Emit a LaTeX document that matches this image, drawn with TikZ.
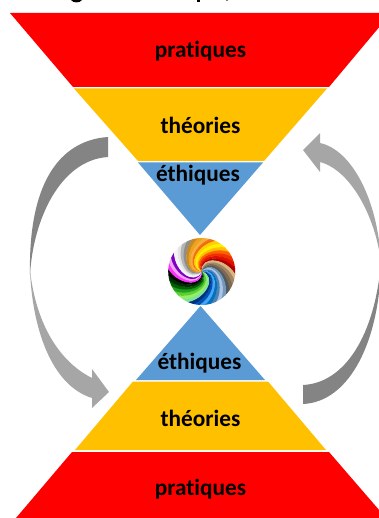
\documentclass[tikz,border=0pt]{standalone}
\usepackage{fontspec}
\setmainfont[Ligatures=CommonOff]{Carlito}
\definecolor{cred}{HTML}{FF0000}
\definecolor{cyel}{HTML}{FFC000}
\definecolor{cblu}{HTML}{5B9BD5}
\definecolor{gdark}{HTML}{848484}
\definecolor{glight}{HTML}{A6A6A6}
\tikzset{
  lbl/.style={font=\fontsize{23.3}{25}\selectfont\bfseries,text=black,inner sep=0pt,anchor=center},
  swirlband/.style={line width=0.15pt}
}
\begin{document}
\begin{tikzpicture}[x=1pt,y=-1pt]
\useasboundingbox (0,0) rectangle (379,518);
\fill[white] (0,0) rectangle (379,518);
\clip (0,0) rectangle (379,518);
% top fragments of cut-off line
\fill[black] (71,0) .. controls (73,3.2) and (80,3.2) .. (82,0) -- cycle;
\fill[black] (197,0) rectangle (200,2);
\fill[gray] (226,0) rectangle (228,1.2);
% funnel
\fill[cred] (10,13) -- (391,13) -- (329,87) -- (73,87) -- cycle;
\fill[cyel] (74,88.5) -- (327,88.5) -- (264,161) -- (138,161) -- cycle;
\fill[cblu] (138,162.5) -- (263,162.5) -- (200,235) -- cycle;
% pyramid
\fill[cblu] (200.5,306) -- (136,380) -- (265,380) -- cycle;
\fill[cyel] (133,381.5) -- (268,381.5) -- (326,450) -- (75,450) -- cycle;
\fill[cred] (72,452) -- (329,452) -- (386,518) -- (16,518) -- cycle;
% arrows
\fill[gdark] (108,137) .. controls (65,140) and (28,175) .. (30,275)
  .. controls (33,220) and (60,160) .. (108,157) -- cycle;
\fill[glight] (30,270) .. controls (32,325) and (50,385) .. (92,398)
  -- (92,408) -- (109,392) -- (92,369) -- (92,378)
  .. controls (60,362) and (36,325) .. (30,270) -- cycle;
\fill[glight] (303,150) -- (320,133) -- (320,143)
  .. controls (352,150) and (378,200) .. (381,262)
  .. controls (375,215) and (350,170) .. (320,162)
  -- (320,172) -- cycle;
\fill[gdark] (303,385) .. controls (345,383) and (375,335) .. (381,262)
  .. controls (380,340) and (350,402) .. (303,404) -- cycle;
% swirl
\begin{scope}
\clip (201.7,271.5) circle[radius=33.5];
\begin{scope}[shift={(201.7,271.5)},x=1pt,y=1pt]
\fill[white] (0,0) circle[radius=33.5];
\foreach \a/\c in {130/E4E4E4,120/B4B4B4,110/8E8E8E,100/C88A20,90/EDA21F,80/F6AE3A,70/F26E10,60/FFD000,50/FFF000,40/FFC000,30/FF6000,20/F03000,10/E01000,0/B00000,-10/D8B880,-20/A58662,-30/7E6850,-40/505860,-50/7598BA,-60/A8C6E4,-70/4F80B2,-80/0070C0,-90/45A5F2,-100/0052B4,-110/003080,-120/7FE29A,-130/92F062,-140/5CCF32,-150/1FA01F,-160/006000,-170/002C00,-180/000000,170/FF30FF,160/F2A4F0,150/7E00C4,140/F4F4F4}{
  \definecolor{bandc}{HTML}{\c}
  \pgfmathsetmacro\ab{\a-11}
  \pgfmathsetmacro\aA{\a+105}
  \pgfmathsetmacro\aB{\a+38}
  \pgfmathsetmacro\bA{\ab+105}
  \pgfmathsetmacro\bB{\ab+38}
  \fill[bandc,swirlband] (0,0) .. controls (\aA:17) and (\aB:30) .. (\a:36)
    -- (\ab:36) .. controls (\bB:30) and (\bA:17) .. (0,0) -- cycle;
}
\end{scope}
\end{scope}
% labels
\node[lbl] (p1) at (200.5,51) {pratiques};
\node[lbl] (t1) at (200.5,125) {théories};
\node[lbl] (e1) at (198,175) {éthiques};
\node[lbl] (e2) at (199.5,363) {éthiques};
\node[lbl] (t2) at (200.5,418) {théories};
\node[lbl] (p2) at (200.5,489) {pratiques};
\end{tikzpicture}
\end{document}
